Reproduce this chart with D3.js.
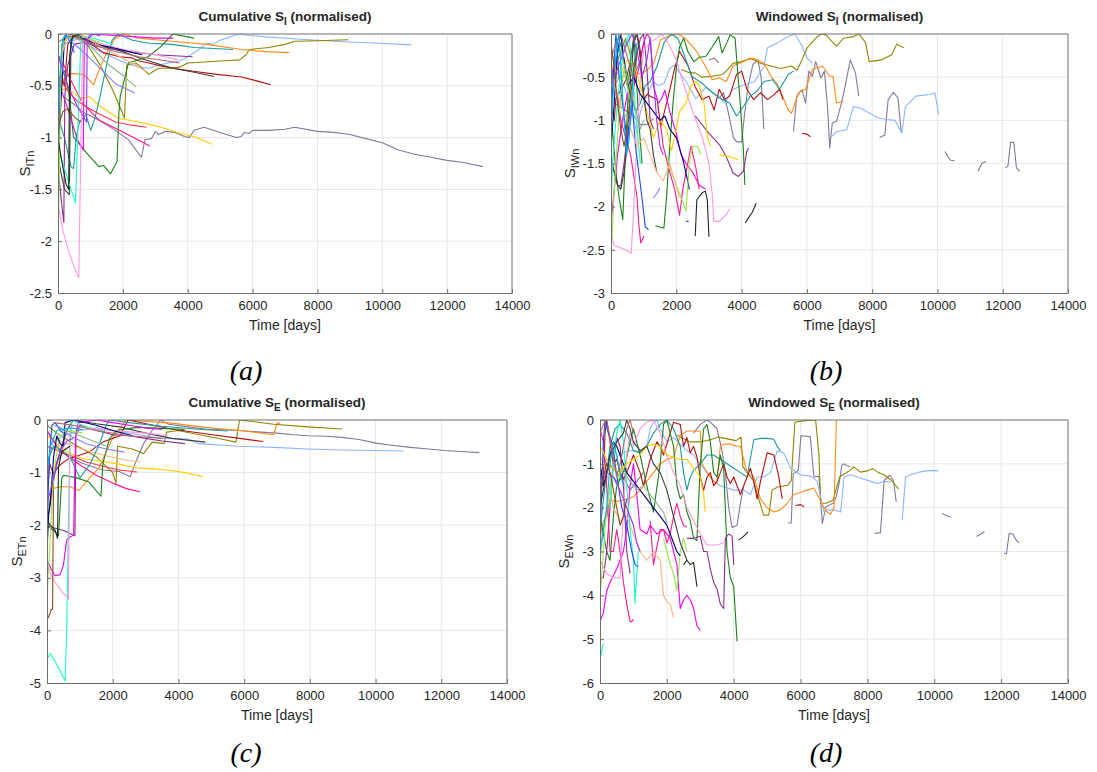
<!DOCTYPE html>
<html>
<head>
<meta charset="utf-8">
<script src="https://cdn.jsdelivr.net/npm/d3@7/dist/d3.min.js"></script>
<style>
  body { margin: 0; background: #fff; }
  svg { display: block; }
  text { font-family: "Liberation Sans", Arial, Helvetica, sans-serif; fill: #262626; }
  .caption { font-family: "Liberation Serif", "Times New Roman", serif; font-style: italic; fill: #000; }
</style>
</head>
<body>
<div id="chart"></div>
<script>
// one colour per well, same well keeps its colour in every panel
const wellColours = [
  '#85789a', '#8fb4ff', '#8c8700', '#ff8c1a', '#b31212', '#ffcc00', '#3d3d3d',
  '#1a801a', '#199999', '#f000f0', '#8c2e8c', '#ff1a8c', '#ff3355', '#ff99dd',
  '#1affc4', '#1a4dff', '#000080', '#99e64d', '#8fb38f', '#ffb380', '#8080ff',
  '#b36b6b', '#00b3d9', '#1a2b1a', '#9933ff', '#8a4a1f'
];

const xTicks = [0, 2000, 4000, 6000, 8000, 10000, 12000, 14000];

// cumulative S_I, normalised : [well, [[day, value], ...]]
const cumSI = [
  [0, [[150,-0.6],[500,-0.68],[800,-0.76],[1260,-0.83],[1770,-0.93],[2170,-1.02],[2570,-1.19],[2680,-1.02],[2880,-1.01],[3000,-0.94],[3100,-0.97],[3300,-0.94],[3600,-0.95],[3900,-0.99],[4050,-1.0],[4200,-0.93],[4500,-0.9],[5000,-0.95],[5500,-1.0],[5650,-0.99],[5750,-0.95],[5900,-0.96],[6000,-0.93],[6500,-0.93],[7000,-0.92],[7300,-0.9],[8000,-0.94],[8500,-0.95],[9000,-0.97],[9500,-1.01],[10000,-1.05],[10500,-1.12],[11000,-1.16],[11500,-1.19],[12000,-1.22],[12500,-1.24],[13100,-1.28]]],
  [1, [[100,-0.1],[600,-0.05],[1000,-0.12],[1500,-0.2],[2000,-0.27],[2500,-0.32],[2800,-0.33],[3100,-0.3],[3400,-0.28],[3750,-0.26],[4000,-0.22],[4300,-0.16],[4600,-0.09],[4800,-0.1],[5000,-0.06],[5300,-0.03],[5550,0],[5800,-0.01],[6500,-0.03],[7500,-0.05],[8500,-0.07],[9500,-0.085],[10900,-0.105]]],
  [2, [[0,-0.08],[300,-0.02],[600,-0.03],[900,-0.1],[1300,-0.3],[1700,-0.55],[2050,-0.81],[2120,-0.3],[2400,-0.28],[2600,-0.33],[2800,-0.39],[2950,-0.36],[3100,-0.33],[3400,-0.33],[3750,-0.32],[4000,-0.28],[4500,-0.27],[5000,-0.26],[5600,-0.25],[5800,-0.2],[5900,-0.15],[6500,-0.13],[7000,-0.1],[7300,-0.07],[8000,-0.065],[8950,-0.055]]],
  [3, [[0,-0.62],[150,-0.45],[360,-0.38],[785,-0.39],[950,-0.44],[1100,-0.49],[1200,-0.4],[1315,-0.31],[1550,-0.15],[1740,-0.05],[2000,0],[2480,-0.04],[3500,-0.07],[4600,-0.1],[5660,-0.15],[6400,-0.17],[7130,-0.18]]],
  [4, [[0,-0.55],[100,-0.4],[200,-0.5],[300,-0.1],[500,-0.01],[900,-0.07],[1400,-0.18],[1900,-0.22],[2270,-0.23],[2500,-0.26],[2800,-0.28],[3200,-0.31],[3550,-0.33],[4180,-0.36],[4900,-0.39],[5660,-0.415],[6100,-0.45],[6560,-0.49]]],
  [5, [[0,-0.55],[300,-0.52],[600,-0.6],[760,-0.62],[960,-0.605],[1260,-0.69],[1870,-0.815],[2170,-0.83],[2780,-0.87],[3280,-0.91],[3790,-0.96],[4190,-0.99],[4750,-1.065]]],
  [6, [[0,-1.2],[200,-1.5],[350,-1.55],[400,-0.05],[600,-0.01],[900,-0.05],[1400,-0.12],[2000,-0.17],[2500,-0.23],[3000,-0.28],[3540,-0.33],[4200,-0.37],[4810,-0.41]]],
  [7, [[200,-0.35],[350,-0.6],[475,-0.99],[860,-1.14],[1260,-1.28],[1410,-1.27],[1620,-1.35],[1820,-1.23],[1880,-0.75],[1920,-0.6],[2170,-0.28],[2780,-0.22],[3180,-0.12],[3540,0],[4190,-0.04]]],
  [8, [[0,-0.8],[200,-1.0],[400,-1.28],[480,-1.3],[560,-1.0],[660,-0.85],[860,-0.78],[1010,-0.93],[1150,-0.8],[1300,-0.6],[1510,-0.28],[1670,-0.06],[1850,0],[2300,-0.06],[2800,-0.09],[3500,-0.1],[4200,-0.13],[4800,-0.14],[5400,-0.15]]],
  [9, [[0,-0.45],[300,-0.72],[600,-1.02],[780,-1.12],[810,-0.1],[1000,0],[1500,-0.01],[2000,-0.02],[3000,-0.04],[3550,-0.04]]],
  [10, [[0,-1.3],[100,-1.6],[180,-1.82],[210,-0.6],[300,-0.3],[500,-0.1],[800,-0.08],[1200,-0.12],[2000,-0.16],[3000,-0.2],[4150,-0.22]]],
  [11, [[0,-0.2],[150,-0.28],[400,-0.45],[760,-0.67],[1260,-0.83],[1770,-0.91],[2270,-0.99],[2830,-1.08]]],
  [12, [[0,-0.4],[300,-0.55],[600,-0.65],[860,-0.7],[1260,-0.77],[1770,-0.85],[2270,-0.88],[2730,-0.9]]],
  [13, [[0,-1.64],[150,-1.9],[355,-2.12],[500,-2.25],[640,-2.35],[760,-0.02],[1200,-0.08],[2000,-0.15],[3000,-0.2],[3700,-0.25]]],
  [14, [[0,-1.1],[200,-1.3],[400,-1.5],[540,-1.63],[700,-0.1],[800,-0.02],[1200,-0.05],[1700,-0.1]]],
  [15, [[0,-1.3],[50,-0.7],[100,-0.3],[150,-0.05],[250,0],[400,-0.1],[500,-0.18]]],
  [16, [[0,-1.2],[100,-0.6],[200,-0.05],[400,0],[800,-0.05],[1200,-0.1],[1800,-0.14],[2300,-0.18],[2600,-0.2]]],
  [17, [[0,-2.35],[30,-1.5],[80,-0.5],[150,-0.1],[300,-0.02],[600,0],[1000,-0.05],[1300,-0.08]]],
  [18, [[300,-0.01],[600,-0.02],[1000,-0.12],[1500,-0.28],[2000,-0.4],[2400,-0.51]]],
  [19, [[0,-0.3],[300,-0.02],[700,0],[1200,-0.1],[1800,-0.2],[2400,-0.3],[2700,-0.36]]],
  [20, [[300,-0.05],[700,-0.15],[1200,-0.3],[1770,-0.48],[2370,-0.57]]],
  [21, [[300,-0.02],[800,-0.06],[1500,-0.15],[2500,-0.22],[3750,-0.28]]],
  [22, [[0,-0.9],[60,-0.4],[120,-0.1],[200,-0.02],[500,-0.05]]],
  [24, [[0,-0.2],[300,-0.5],[600,-0.7],[880,-0.85],[900,-0.05],[1100,0],[1300,-0.02]]],
  [25, [[0,-0.9],[150,-0.75],[300,-0.72],[500,-0.8],[700,-0.85]]],
  [23, [[0,-1.0],[100,-1.2],[250,-1.45],[330,-1.5],[360,-0.2],[450,-0.02],[700,0]]]
];

// windowed S_I, normalised (null = no window value)
const winSI = [
  [0, [[100,-0.8],[300,-0.85],[500,-0.9],[700,-0.95],[900,-1.05],[1100,-1.05],[1300,-0.98],null,[3000,-0.3],[3150,-0.28],[3300,-0.33],null,[3300,-0.75],[3450,-0.68],[3600,-0.92],[3750,-1.2],[3850,-1.25],[4000,-1.25],[4100,-0.9],[4200,-0.6],[4350,-0.35],[4500,-0.3],[4600,-0.5],[4680,-1.1],null,[5590,-1.13],[5690,-0.72],[5850,-0.645],[5960,-0.8],[6060,-0.43],[6170,-0.49],[6270,-0.32],[6430,-0.51],[6540,-0.43],[6640,-0.88],[6700,-1.32],[6780,-1.03],[6910,-1.01],[7060,-0.8],[7170,-0.61],[7330,-0.3],[7490,-0.45],[7590,-0.72],null,[8230,-1.2],[8390,-1.17],[8490,-0.76],[8650,-0.675],[8790,-0.74],[8890,-1.13],null,[10230,-1.36],[10390,-1.46],[10520,-1.47],null,[11240,-1.59],[11360,-1.5],[11500,-1.475],null,[12080,-1.55],[12160,-1.53],[12240,-1.255],[12340,-1.255],[12420,-1.55],[12520,-1.59]]],
  [1, [[0,-0.2],[200,-0.45],[400,-0.6],[600,-0.85],[800,-1.15],[900,-0.9],[1100,-0.7],[1300,-0.55],[1450,-0.6],[1630,-0.57],[1800,-0.4],[1940,-0.36],[2100,-0.45],[2300,-0.55],[2600,-0.75],[2900,-0.62],[3200,-0.7],[3500,-0.8],[3700,-0.65],[4000,-0.6],[4400,-0.55],[4690,-0.37],[4790,-0.16],[5110,-0.1],[5430,-0.03],[5640,0],[5850,-0.14],[6010,-0.28],[6170,-0.34],null,[6750,-1.19],[6910,-1.13],[7220,-1.11],[7430,-0.84],[7650,-0.86],[8170,-0.97],[8440,-0.99],[8700,-1.0],[8910,-1.15],[9020,-0.84],[9340,-0.72],[9760,-0.7],[9920,-0.68],[10040,-0.93]]],
  [2, [[0,-0.5],[150,-0.35],[300,-0.2],[450,-0.05],[600,-0.25],[750,-0.45],[900,-0.3],[1000,-0.1],null,[2150,-0.41],[2400,-0.45],[2580,-0.45],[2800,-0.5],[3100,-0.49],[3420,-0.47],[3600,-0.4],[3740,-0.34],[4000,-0.32],[4270,-0.28],[4580,-0.34],[4900,-0.37],[5200,-0.4],[5530,-0.37],[5700,-0.42],[5850,-0.3],[6010,-0.16],[6270,-0.05],[6430,0],[6590,-0.01],[6750,-0.08],[6910,-0.14],[7120,-0.05],[7430,-0.03],[7600,0],[7800,-0.1],[7910,-0.32],[8280,-0.3],[8600,-0.24],[8750,-0.12],[8970,-0.16]]],
  [3, [[0,-0.75],[100,-0.6],[250,-0.5],[412,-0.49],[700,-0.47],[993,-0.45],[1150,-0.4],[1310,-0.34],[1520,-0.066],[1730,-0.03],[2050,0],[2260,-0.046],[2580,-0.18],[2890,-0.37],[3100,-0.53],[3320,-0.51],[3530,-0.55],[3740,-0.37],[3950,-0.34],[4160,-0.3],[4370,-0.28],[4690,-0.34],[4900,-0.49],[5110,-0.59],[5430,-0.88],[5530,-0.92],[5745,-0.68],[5960,-0.64],[6170,-0.41],[6480,-0.37],[6700,-0.49],[6800,-0.49],[6910,-0.8],[7120,-0.78]]],
  [4, [[0,-0.84],[100,-1.0],[150,-0.75],[253,-0.68],[465,-0.53],[600,-0.3],[700,-0.05],[800,0],[900,-0.2],[993,-0.76],[1100,-0.7],[1204,-0.72],[1415,-0.76],[1521,-1.07],[1732,-0.76],[1943,-0.41],[2100,-0.2],[2365,-0.37],[2577,-0.61],[2788,-0.76],[2999,-0.72],[3158,-0.88],[3316,-0.64],[3474,-0.76],[3633,-0.72],[3844,-0.47],[4002,-0.43],[4161,-0.64],[4372,-0.76],[4583,-0.68],[4794,-0.76],[5005,-0.7],[5164,-0.64],[5270,-0.76],null,[5850,-1.15],[6000,-1.16],[6110,-1.19]]],
  [8, [[0,-0.6],[150,-0.3],[300,-0.1],[450,-0.4],[600,-0.7],[750,-0.9],[900,-0.8],[1050,-0.6],[1200,-0.55],[1415,-0.37],[1626,-0.1],[1838,0],[2049,-0.05],[2260,-0.26],[2471,-0.49],[2788,-0.57],[3105,-0.68],[3421,-0.76],[3633,-0.8],[3844,-0.95],[4055,-0.84],[4266,-0.72],[4477,-0.66],[4689,-0.55],[4953,-0.53],[5164,-0.64],[5428,-0.47],[5586,-0.43]]],
  [7, [[0,-0.9],[150,-1.6],[250,-1.9],[360,-2.15],[450,-1.3],[550,-0.5],[650,-0.2],[700,0],[760,-0.4],[850,-1.0],[950,-1.5],null,[1360,-2.22],[1620,-2.25],[1700,-1.9],[1800,-1.3],[1900,-0.8],[2000,-0.4],[2100,-0.15],[2230,-0.05],[2350,-0.2],[2540,-0.32],[2700,-0.27],[2900,-0.26],[3100,-0.15],[3300,-0.03],[3400,-0.22],[3550,-0.1],[3650,-0.01],[3800,-0.05],[3950,-0.76],[4050,-1.3],[4100,-1.75]]],
  [10, [[0,-1.4],[100,-1.6],[200,-1.75],[300,-1.76],[400,-1.5],[500,-1.2],[600,-1.0],[700,-0.6],[800,-0.2],[900,-0.05],[1000,0],[1100,-0.4],[1200,-1.0],[1300,-1.1],null,[2580,-0.95],[3000,-1.15],[3320,-1.28],[3530,-1.42],[3740,-1.61],[3900,-1.65],[4055,-1.59],[4160,-1.36],[4210,-1.32]]],
  [9, [[0,-2.2],[100,-1.8],[200,-1.4],[350,-1.0],[500,-0.7],[700,-0.6],[850,-0.4],[1000,-0.1],[1100,0],[1200,-0.05],[1300,-0.6],[1450,-0.8],[1550,-0.75],[1650,-0.65],[1800,-0.9],[2000,-1.15],[2150,-1.4],[2300,-1.5],[2500,-1.6],[2700,-1.75],[2900,-1.8]]],
  [11, [[0,-0.3],[100,-0.6],[200,-0.7],[300,-1.0],[450,-1.2],[600,-1.4],[700,-1.65],[800,-1.9],[850,-2.2],[912,-2.42],[1013,-2.34],null,[1500,-1.0],[1600,-1.3],[1800,-1.6],[1950,-1.8],[2100,-2.1],[2200,-1.8],[2350,-1.5],[2450,-1.3],[2600,-1.55],[2700,-1.8]]],
  [13, [[0,-2.3],[100,-2.45],[250,-2.47],[450,-2.5],[620,-2.54],[700,-2.0],[800,-1.2],[900,-0.5],[1000,-0.2],[1200,-0.1],[1400,-0.05],[1550,0],[1750,-0.1],[2000,-0.3],[2200,-0.55],[2500,-0.9],[2800,-1.2],[3000,-1.5],[3100,-1.85],[3150,-2.17],[3320,-2.17],[3530,-2.09],[3630,-2.03]]],
  [5, [[0,-0.2],[150,-0.4],[300,-0.45],[500,-0.3],[700,-0.35],[900,-0.6],[1100,-0.9],[1300,-1.2],[1500,-1.0],[1700,-1.1],[1850,-1.35],[2000,-1.1],[2100,-0.9],[2300,-0.8],[2450,-0.6],[2600,-0.55],[2700,-0.6],[2850,-0.8],[2950,-1.2],[3050,-1.3],null,[3320,-1.4],[3630,-1.42],[3900,-1.46]]],
  [23, [[2580,-2.34],[2630,-1.92],[2790,-1.84],[2890,-1.82],[2950,-1.92],[3000,-2.35],null,[4110,-2.19],[4210,-2.13],[4320,-2.07],[4450,-1.96]]],
  [6, [[0,-1.5],[100,-1.6],[200,-1.75],[300,-1.8],[400,-1.6],[500,-1.3],[600,-0.5],[700,-0.1],[800,0],[900,-0.3],[1000,-0.7],[1100,-1.0],[1200,-1.1],[1300,-1.4],[1400,-1.6]]],
  [16, [[0,-1.3],[100,-0.8],[200,-0.2],[300,0],[400,-0.3],[500,-0.6],[700,-0.5],[900,-0.7],[1100,-0.8],[1300,-0.9],[1500,-1.0],[1650,-0.95],[1800,-1.1],[2000,-1.2],[2200,-1.45],[2350,-1.7],[2400,-1.8]]],
  [15, [[0,-1.0],[100,-0.3],[150,0],[250,-0.5],[350,-0.8],[450,-1.1],[500,-1.3],[550,-1.0],[650,-0.8],[750,-1.3],[850,-1.6],[950,-1.9],[1050,-2.23],[1150,-2.27],null,[2300,-2.17],[2380,-2.17]]],
  [20, [[1300,-1.9],[1400,-1.85],[1500,-1.78]]],
  [17, [[0,-2.6],[100,-1.8],[200,-1.2],[300,-0.7],[400,-0.4],[500,-0.6],[600,-0.8],null,[1700,-1.4],[1850,-1.6],[2000,-1.75],[2150,-1.9],[2300,-2.05],[2400,-1.5],[2500,-1.3],[2650,-1.3],[2750,-1.4]]],
  [14, [[0,-2.0],[50,-1.5],[150,-1.0],[250,-0.6],[350,-0.3],[450,-0.1],[550,0],[650,-0.4],[750,-0.9],[850,-1.3],[900,-1.5]]],
  [18, [[300,-0.2],[500,-0.5],[700,-0.8],[900,-1.1],[1000,-1.0]]],
  [19, [[0,-0.5],[200,-0.7],[400,-0.9],[600,-1.1],[800,-1.3],[1000,-1.2],[1200,-1.4],[1400,-1.6],[1600,-1.7],[1800,-1.5],[1950,-1.7],[2100,-1.9]]],
  [24, [[0,-0.6],[300,-0.3],[500,-0.1],[650,0],[800,-0.2],[950,-0.5],[1100,-0.3],[1200,-0.05],[1300,-0.5],[1400,-1.0],[1500,-1.3],[1600,-1.4]]],
  [21, [[0,-0.3],[150,-0.1],[300,0],[450,-0.2],[600,-0.4],[750,-0.3]]],
  [22, [[0,-1.2],[80,-0.6],[160,-0.2],[240,0],[320,-0.5],[400,-1.0],[480,-1.4],[560,-1.2],[640,-0.7],[720,-0.3],[800,-0.1]]],
  [25, [[0,-0.1],[100,-0.4],[200,-0.8],[300,-1.1],[400,-1.3],[500,-1.1],[600,-0.7],[700,-0.4],[800,-0.2]]]
];

// cumulative S_E, normalised
const cumSE = [
  [0, [[0,-0.2],[100,-0.3],[400,-0.6],[800,-0.75],[1200,-0.85],[1700,-0.95],[2200,-0.98],[2530,-1.08],[2700,-0.8],[2940,-0.45],[3200,-0.2],[3460,0],[3700,-0.08],[4300,-0.13],[4800,-0.17],[5850,-0.2],[6500,-0.23],[7000,-0.25],[7500,-0.28],[7940,-0.3],[8500,-0.31],[8980,-0.33],[9500,-0.37],[10020,-0.44],[10500,-0.48],[11060,-0.52],[11600,-0.55],[12100,-0.58],[12600,-0.6],[13160,-0.62]]],
  [2, [[0,-0.1],[300,-0.25],[800,-0.45],[1500,-0.7],[2000,-1.0],[2100,-1.2],[2150,-0.5],[2600,-0.55],[2940,-0.64],[3200,-0.42],[3560,-0.45],[3640,-0.23],[3980,-0.2],[4800,-0.3],[5300,-0.36],[5750,-0.42],[5860,0],[6900,-0.08],[7940,-0.13],[8980,-0.17]]],
  [1, [[0,-1.2],[100,-0.6],[200,-0.4],[500,-0.3],[1000,-0.2],[1500,-0.15],[2000,-0.2],[2500,-0.25],[3000,-0.3],[3500,-0.35],[4300,-0.36],[4600,-0.45],[5850,-0.5],[6900,-0.52],[7940,-0.55],[8980,-0.57],[10850,-0.59]]],
  [3, [[0,-1.6],[100,-1.6],[200,-1.3],[400,-1.27],[700,-1.27],[970,-1.34],[1300,-1.1],[1590,-0.9],[2010,-0.33],[2420,0],[3780,-0.06],[4820,-0.14],[5860,-0.2],[6900,-0.28],[7000,-0.06],[7100,-0.06]]],
  [4, [[0,-1.5],[80,-0.83],[190,-1.02],[400,-0.85],[650,-0.74],[1280,-0.61],[1700,-0.42],[2220,-0.3],[2470,0],[3780,-0.17],[4820,-0.26],[5860,-0.35],[6580,-0.41]]],
  [5, [[0,-0.3],[300,-0.45],[600,-0.6],[900,-0.7],[1180,-0.74],[1600,-0.78],[2110,-0.83],[2740,-0.91],[3260,-0.93],[3780,-0.96],[4200,-1.0],[4760,-1.08]]],
  [11, [[0,-0.2],[300,-0.5],[650,-0.7],[1000,-0.85],[1500,-1.05],[2000,-1.2],[2400,-1.3],[2840,-1.37]]],
  [12, [[0,-0.5],[400,-0.6],[800,-0.7],[1200,-0.8],[1700,-0.88],[2200,-0.95],[2740,-0.99]]],
  [19, [[0,-0.3],[400,-0.4],[800,-0.5],[1300,-0.6],[1800,-0.68],[2300,-0.75],[2840,-0.8]]],
  [6, [[0,-2.0],[100,-1.5],[300,-0.8],[600,-0.2],[800,0],[1500,-0.07],[2200,-0.13],[3000,-0.25],[3800,-0.35],[4820,-0.42]]],
  [10, [[0,-2.0],[200,-2.05],[500,-2.1],[850,-2.2],[880,-0.3],[1000,-0.1],[1500,-0.2],[2000,-0.28],[2500,-0.3],[3000,-0.35],[3500,-0.4],[4200,-0.45]]],
  [7, [[0,-2.0],[200,-2.1],[350,-2.2],[450,-1.1],[500,-1.05],[900,-1.1],[1280,-1.18],[1640,-1.45],[1700,-0.83],[1900,-0.36],[2110,-0.2],[2740,-0.14],[3500,-0.16],[4190,-0.18]]],
  [8, [[0,-0.8],[200,-0.5],[500,-0.6],[700,-0.7],[1000,-1.1],[1300,-0.85],[1600,-0.45],[1800,-0.1],[1900,0],[2500,-0.05],[3500,-0.12],[4500,-0.17],[5500,-0.21]]],
  [9, [[0,-2.66],[100,-2.8],[240,-2.96],[400,-2.94],[500,-2.76],[600,-2.28],[710,-2.22],[810,-2.19],[840,-1.15],[870,-0.3],[950,-0.05],[1500,0],[2000,-0.05],[2500,-0.1],[3000,-0.15],[3500,-0.18]]],
  [14, [[0,-4.55],[100,-4.44],[240,-4.58],[400,-4.77],[550,-4.96],[600,-4.0],[650,-2.0],[700,-0.5],[760,0],[1000,-0.08],[1300,-0.15],[1700,-0.2]]],
  [13, [[0,-2.7],[135,-2.98],[343,-3.17],[500,-3.3],[603,-3.35],[650,-3.42],[680,-1.5],[700,-0.2],[800,-0.1],[1200,-0.15],[2000,-0.2],[3000,-0.25],[3700,-0.3]]],
  [25, [[0,-3.8],[80,-3.7],[130,-3.6],[170,-3.6],[200,-1.0],[300,-0.8],[500,-0.6]]],
  [17, [[0,-3.7],[30,-3.0],[80,-2.5],[150,-1.5],[250,-0.8],[400,-0.3],[700,-0.2],[1100,-0.25]]],
  [15, [[0,-2.3],[30,-1.5],[80,-0.6],[150,-0.1],[250,-0.05],[400,-0.2],[500,-0.25]]],
  [16, [[0,-2.5],[50,-1.8],[100,-1.6],[200,-0.7],[300,-0.3],[400,-0.45],[500,-0.5],[550,-0.05],[800,0],[1500,-0.1],[2000,-0.2],[2600,-0.3]]],
  [18, [[200,-0.1],[600,-0.2],[1000,-0.3],[1400,-0.4],[1800,-0.5]]],
  [20, [[300,-0.1],[700,-0.3],[1200,-0.45],[1800,-0.55],[2350,-0.61]]],
  [22, [[0,-1.0],[100,-0.5],[300,-0.2],[700,-0.15],[1100,-0.18]]],
  [21, [[200,-0.05],[800,-0.1],[1500,-0.2],[2500,-0.3],[3500,-0.35]]],
  [24, [[0,-1.6],[200,-1.1],[400,-0.6],[600,-0.4],[800,-0.35]]],
  [23, [[0,-1.9],[100,-2.0],[250,-2.1],[320,-2.25],[350,-0.9],[450,-0.6],[700,-0.5]]]
];

// windowed S_E, normalised (null = no window value)
const winSE = [
  [0, [[100,-0.8],[300,-1.2],[500,-1.4],[700,-1.3],[900,-1.6],[1100,-1.4],[1300,-1.2],null,[2800,-0.3],[3000,-0.1],[3200,0],[3300,-0.05],[3500,-0.2],[3650,-0.7],[3750,-1.2],[3850,-2.0],[3950,-2.45],[4100,-2.4],[4200,-1.9],[4300,-1.5],null,[5620,-2.35],[5720,-2.35],[5780,-1.23],[5930,-1.15],[6010,-0.36],[6290,-0.38],[6400,-1.3],[6550,-1.28],[6650,-2.36],[6760,-1.98],[6970,-1.9],[7070,-1.75],[7170,-1.38],[7230,-1.04],[7280,-1.0],[7380,-1.04],[7480,-1.06],null,[8210,-2.59],[8390,-2.57],[8500,-1.38],[8670,-1.26],[8780,-1.38],[8860,-1.87],null,[10230,-2.13],[10380,-2.19],[10480,-2.21],null,[11260,-2.66],[11420,-2.59],[11500,-2.55],null,[12090,-3.04],[12160,-3.05],[12240,-2.59],[12350,-2.6],[12450,-2.74],[12530,-2.8]]],
  [2, [[0,-1.2],[200,-1.0],[400,-1.1],[600,-1.3],[800,-1.1],null,[2300,-0.35],[2700,-0.5],[3000,-0.5],[3300,-0.45],[3550,-0.39],[4070,-0.47],[4220,-0.39],[4275,-1.07],[4585,-1.38],[4895,-2.17],[5050,-2.17],[5150,-1.6],[5310,-1.53],[5620,-1.49],[5720,-1.38],[5830,-0.05],[6140,-0.015],[6450,0],[6550,-0.8],[6600,-1.9],[6760,-1.9],[6970,-1.83],[7170,-1.3],[7480,-1.15],[7590,-1.07],[7790,-1.19],[8000,-1.16],[8160,-1.11],[8310,-1.19],[8520,-1.26],[8720,-1.38],[8930,-1.57]]],
  [1, [[0,-3.2],[100,-2.5],[250,-1.8],[400,-1.0],[550,-0.8],[700,-0.75],[850,-0.7],[1000,-0.7],[1200,-0.72],[1400,-0.6],[1500,-0.2],[1600,-0.05],[1700,0],[1800,-0.2],[2000,-0.5],[2200,-0.4],[2400,-0.55],[2600,-0.7],[2800,-0.8],[3000,-1.0],[3200,-1.2],[3400,-1.4],[3600,-1.5],[3800,-1.55],[4000,-1.6],[4300,-1.6],[4500,-1.7],[4700,-1.3],[4900,-1.3],[5100,-1.2],[5300,-0.7],[5500,-0.75],[5700,-1.1],[6000,-1.25],[6300,-1.28],[6500,-1.4],[6700,-2.1],[6800,-2.05],[7000,-2.05],[7200,-2.1],[7300,-1.3],[7500,-1.25],[7700,-1.3],[7900,-1.35],[8100,-1.4],[8300,-1.45],[8500,-1.4],[8700,-1.42],null,[9040,-2.28],[9140,-1.3],[9350,-1.23],[9550,-1.19],[9760,-1.16],[9970,-1.15],[10120,-1.16]]],
  [3, [[0,-2.7],[100,-2.3],[200,-2.2],[300,-1.8],[400,-1.85],[600,-1.85],[800,-1.8],[1000,-1.75],[1200,-1.6],[1400,-1.4],[1600,-1.2],[1800,-1.0],[2000,-0.9],[2200,-0.85],[2400,-0.35],[2600,-0.25],[2800,-0.25],[3000,-0.25],[3050,-1.0],[3200,-1.2],[3400,-1.4],[3500,-1.45],[3600,-0.6],[3700,-0.55],[3900,-0.55],[4100,-0.6],[4200,-0.6],[4400,-1.2],[4600,-1.3],[4800,-1.8],[5000,-2.0],[5200,-2.1],[5400,-2.05],[5600,-1.9],[5800,-1.7],[6000,-1.65],[6200,-1.6],[6400,-1.55],[6500,-1.7],[6700,-2.0],[6800,-2.1],[6900,-2.15],[7000,-2.0],[7030,-1.2],[7070,0],[7100,0]]],
  [8, [[0,-2.5],[150,-1.5],[300,-0.6],[450,-0.2],[600,-0.1],[800,-0.3],[1000,-0.7],[1200,-0.75],[1400,-0.6],[1600,-0.3],[1800,-0.1],[2000,0],[2200,-0.2],[2400,-0.6],[2500,-1.2],[2600,-1.6],[2700,-1.3],[2800,-1.15],[3000,-1.0],[3200,-0.8],[3400,-0.8],[3600,-0.9],[3800,-1.0],[4000,-1.1],[4200,-1.2],[4400,-1.3],[4600,-0.45],[4800,-0.42],[5000,-0.42],[5200,-0.44],[5300,-0.6],[5400,-0.7]]],
  [4, [[0,-1.6],[100,-1.4],[150,-0.3],[200,0],[300,-0.5],[400,-1.0],[500,-0.9],[600,-1.2],[700,-1.35],[800,-1.2],[900,-1.0],[1000,-0.8],[1100,-1.0],[1200,-1.2],[1300,-1.5],[1400,-1.2],[1500,-0.9],[1600,-0.7],[1700,-0.5],[1800,-0.6],[1900,-0.8],[2000,-0.55],[2100,-0.3],[2200,-0.05],[2300,-0.08],[2400,-0.1],[2500,-0.6],[2600,-0.4],[2700,-0.75],[2800,-0.6],[2900,-0.85],[3000,-1.3],[3100,-1.6],[3200,-1.3],[3300,-1.2],[3400,-1.5],[3500,-1.4],[3600,-1.2],[3700,-1.0],[3800,-1.3],[3900,-1.45],[4000,-1.3],[4100,-1.5],[4200,-1.7],[4300,-1.5],[4400,-1.3],[4500,-1.1],[4600,-1.4],[4700,-1.8],[4800,-1.4],[5000,-0.75],[5200,-0.8],[5350,-1.3],[5450,-1.8],null,[5850,-1.95],[6000,-1.93],[6100,-1.98]]],
  [7, [[0,-2.2],[100,-2.6],[200,-3.0],[300,-3.2],[400,-2.2],[500,-1.5],[700,-1.2],[900,-0.5],[1000,-0.2],[1200,-0.8],[1400,-1.5],[1600,-2.1],[1800,-1.0],[1900,-0.1],[2000,0],[2200,-0.6],[2300,-1.5],[2400,-1.8],[2500,-1.7],[2600,-2.1],[2700,-2.3],[2800,-2.7],[2900,-2.75],[3000,-1.0],[3100,-0.2],[3200,-0.1],[3300,-0.5],[3400,-1.2],[3500,-1.3],[3600,-0.8],[3700,-1.1],[3800,-3.0],[3900,-3.6],[4000,-3.8],[4100,-5.05]]],
  [10, [[0,-3.6],[100,-3.6],[200,-3.0],[300,-2.0],[400,-1.0],[500,-0.4],[600,-0.6],[700,-1.5],[800,-3.0],[900,-3.5],null,[2600,-2.7],[2800,-2.7],[3000,-2.65],[3100,-3.0],[3200,-3.0],[3300,-3.4],[3400,-3.7],[3500,-3.85],[3600,-4.2],[3700,-4.3],[3750,-2.7],[3850,-2.6],[3950,-2.65],[4000,-3.3]]],
  [9, [[0,-4.6],[100,-4.4],[200,-3.9],[300,-3.7],[500,-3.4],[700,-3.0],[800,-2.5],[900,-1.5],[1000,-1.0],[1100,-1.7],[1200,-2.5],[1400,-2.6],[1500,-2.4],[1700,-2.6],[1900,-2.5],[2100,-2.7],[2300,-3.3],[2400,-4.3],[2500,-4.1],[2600,-4.0],[2700,-4.1],[2800,-4.3],[2900,-4.7],[3000,-4.8]]],
  [11, [[0,-0.2],[100,-0.5],[200,-1.5],[300,-3.0],[400,-3.0],[500,-2.5],[600,-3.0],[700,-3.7],[800,-4.2],[900,-4.6],[950,-4.6],[1000,-4.55],null,[1500,-2.3],[1600,-3.3],[1700,-2.9],[1800,-2.5],[1900,-2.5],[2000,-2.8],[2100,-2.6],[2200,-2.2],[2300,-1.9],[2400,-2.2],[2500,-2.4],[2600,-2.45]]],
  [23, [[2500,-3.3],[2600,-3.2],[2700,-3.3],[2800,-3.25],[2900,-3.8],null,[4150,-2.74],[4300,-2.65],[4430,-2.55]]],
  [13, [[0,-3.2],[200,-3.5],[400,-3.6],[600,-3.6],[700,-2.0],[800,-0.8],[900,-0.3],[1000,-0.6],[1200,-0.2],[1400,-0.05],[1600,0],[1800,-0.3],[2000,-0.8],[2200,-1.2],[2400,-1.5],[2600,-2.0],[2800,-2.3],[3000,-2.6],[3200,-2.85],[3500,-2.85],[3700,-2.8]]],
  [19, [[0,-0.8],[200,-1.2],[400,-2.0],[600,-2.3],[800,-2.2],[1000,-2.6],[1200,-3.0],[1400,-3.2],[1600,-3.0],[1800,-3.2],[1900,-4.0],[2000,-4.15],[2100,-4.2],[2200,-4.5]]],
  [17, [[0,-4.1],[100,-3.0],[200,-2.0],[300,-1.5],[400,-1.3],[500,-1.5],[600,-1.2],[700,-1.0],null,[1900,-2.7],[2000,-3.0],[2100,-3.3],[2200,-3.5],[2300,-3.9],[2400,-3.0],[2500,-2.7],[2600,-3.0]]],
  [14, [[0,-5.46],[100,-5.1],null,[300,-2.0],[400,-1.0],[500,-0.3],[600,0],[700,-0.5],[800,-1.5],[900,-2.5],[1000,-3.2],[1050,-4.18],[1100,-3.5],[1150,-3.0]]],
  [15, [[0,-3.0],[50,-1.5],[100,-0.5],[150,0],[250,-0.3],[350,-0.5],[450,-1.0],[550,-1.5],[650,-2.0],[750,-2.2],[850,-2.6],[950,-3.0],[1050,-3.3],[1150,-3.35]]],
  [16, [[0,-1.0],[100,-1.5],[200,-1.2],[300,-0.8],[400,-0.5],[500,-0.6],[600,-0.8],[700,-1.0],[800,-1.2],[1000,-1.4],[1200,-1.6],[1400,-1.8],[1600,-2.0],[1800,-2.2],[2000,-2.4],[2200,-2.8],[2300,-3.0],[2400,-3.1]]],
  [18, [[500,-1.0],[700,-1.2],[900,-1.4],[1100,-1.6],[1300,-1.5],[1500,-1.7],[1700,-1.9],[1800,-2.0],[1900,-2.1],[2000,-2.35]]],
  [5, [[0,-0.6],[200,-0.9],[400,-1.1],[600,-1.2],[800,-1.0],[1000,-0.9],[1200,-0.8],[1400,-0.6],[1600,-0.55],[1800,-0.6],[2000,-0.8],[2200,-0.85],[2400,-0.9],[2600,-0.9],[2800,-1.1],[3000,-1.3],[3100,-1.7],[3150,-2.1]]],
  [22, [[0,-3.0],[100,-2.5],[200,-2.0],[300,-1.0],[400,-0.5],[500,-0.8],[600,-1.2],[700,-1.5]]],
  [24, [[0,-1.5],[200,-1.2],[400,-1.3],[600,-1.6],[800,-2.0],[1000,-2.4],[1100,-2.8],[1200,-3.0]]],
  [6, [[0,-2.0],[100,-1.6],[300,-0.8],[500,-0.5],[700,-0.3],[800,0],[900,-0.2],[1000,-0.5],[1200,-0.7],[1400,-0.6],[1600,-1.0],[1800,-1.2],[2000,-1.6],[2200,-2.2],[2300,-2.5],[2400,-2.8],[2500,-3.0],[2600,-3.2]]],
  [21, [[0,-0.3],[100,-0.1],[200,0],[300,-0.4],[400,-0.9],[500,-1.3],[600,-1.0],[700,-0.6],[800,-0.2],[900,0],[1000,-0.3]]],
  [25, [[0,-1.8],[100,-1.3],[200,-1.0],[300,-1.2],[400,-1.6],[500,-2.0],[600,-2.4],[700,-2.2],[800,-1.8]]]
];

const yTicksSI = [0, -0.5, -1, -1.5, -2, -2.5];
const yTicksWI = [0, -0.5, -1, -1.5, -2, -2.5, -3];
const yTicksSE = [0, -1, -2, -3, -4, -5];
const yTicksWE = [0, -1, -2, -3, -4, -5, -6];

// panel layout
const panels = [
  {data: cumSI, yTicks: yTicksSI, left: 58, right: 512, top: 34, bottom: 293,
   title: ['Cumulative S', 'I', ' (normalised)'], ylab: ['S', 'ITn'], ylabX: 30, caption: '(a)', capX: 246, capY: 380},
  {data: winSI, yTicks: yTicksWI, left: 611, right: 1068, top: 34, bottom: 293,
   title: ['Windowed S', 'I', ' (normalised)'], ylab: ['S', 'IWn'], ylabX: 575, caption: '(b)', capX: 826, capY: 380},
  {data: cumSE, yTicks: yTicksSE, left: 47, right: 507, top: 420, bottom: 683,
   title: ['Cumulative S', 'E', ' (normalised)'], ylab: ['S', 'ETn'], ylabX: 22, caption: '(c)', capX: 246, capY: 762},
  {data: winSE, yTicks: yTicksWE, left: 600, right: 1068, top: 420, bottom: 683,
   title: ['Windowed S', 'E', ' (normalised)'], ylab: ['S', 'EWn'], ylabX: 569, caption: '(d)', capX: 826, capY: 762}
];

const width = 1097, height = 772;
const svg = d3.select('#chart').append('svg')
  .attr('width', width)
  .attr('height', height);

panels.forEach((p, i) => {
  const w = p.right - p.left;
  const h = p.bottom - p.top;
  const yMin = d3.min(p.yTicks);

  const x = d3.scaleLinear().domain([0, 14000]).range([0, w]);
  const y = d3.scaleLinear().domain([yMin, 0]).range([h, 0]);

  const g = svg.append('g')
    .attr('transform', `translate(${p.left},${p.top})`);

  // grid
  g.append('g').selectAll('line')
    .data(xTicks.slice(1, -1))
    .enter().append('line')
      .attr('x1', d => x(d)).attr('x2', d => x(d))
      .attr('y1', 0).attr('y2', h)
      .attr('stroke', '#e8e8e8');
  g.append('g').selectAll('line')
    .data(p.yTicks.filter(d => d !== 0 && d !== yMin))
    .enter().append('line')
      .attr('y1', d => y(d)).attr('y2', d => y(d))
      .attr('x1', 0).attr('x2', w)
      .attr('stroke', '#e8e8e8');

  // lines
  g.append('clipPath').attr('id', 'clip' + i)
    .append('rect').attr('width', w).attr('height', h);

  const line = d3.line()
    .defined(d => d !== null)
    .x(d => x(d[0]))
    .y(d => y(d[1]));

  g.append('g')
    .attr('clip-path', `url(#clip${i})`)
    .selectAll('path')
    .data(p.data)
    .enter().append('path')
      .attr('fill', 'none')
      .attr('stroke', d => wellColours[d[0]])
      .attr('stroke-width', 1.1)
      .attr('stroke-linejoin', 'round')
      .attr('d', d => line(d[1]));

  // axes, ticks pointing inwards
  const xAxis = d3.axisBottom(x)
    .tickValues(xTicks)
    .tickFormat(d3.format('d'))
    .tickSizeInner(-4).tickSizeOuter(0).tickPadding(8);
  const yAxis = d3.axisLeft(y)
    .tickValues(p.yTicks)
    .tickFormat(d => String(d))
    .tickSizeInner(-4).tickSizeOuter(0).tickPadding(6);

  g.append('g').attr('class', 'x axis')
    .attr('transform', `translate(0,${h})`)
    .call(xAxis);
  g.append('g').attr('class', 'y axis')
    .call(yAxis);

  g.selectAll('.axis text')
    .attr('font-size', 13)
    .attr('fill', '#262626')
    .attr('font-family', '"Liberation Sans", Arial, sans-serif');
  g.selectAll('.axis line, .axis path').attr('stroke', '#6e6e6e');

  // box top and right
  g.append('path')
    .attr('d', `M0,0H${w}V${h}`)
    .attr('fill', 'none')
    .attr('stroke', '#6e6e6e');

  // title with subscript
  const t = g.append('text')
    .attr('x', w / 2).attr('y', -13)
    .attr('text-anchor', 'middle')
    .attr('font-weight', 'bold')
    .attr('font-size', 13.5)
    .attr('fill', '#000');
  t.append('tspan').text(p.title[0]);
  t.append('tspan').attr('dy', 4).attr('font-size', 10).text(p.title[1]);
  t.append('tspan').attr('dy', -4).text(p.title[2]);

  // x label
  g.append('text')
    .attr('x', w / 2).attr('y', h + 37)
    .attr('text-anchor', 'middle')
    .attr('font-size', 14)
    .text('Time [days]');

  // y label
  const yl = svg.append('text')
    .attr('transform', `translate(${p.ylabX},${p.top + h / 2}) rotate(-90)`)
    .attr('text-anchor', 'middle')
    .attr('font-size', 15);
  yl.append('tspan').text(p.ylab[0]);
  yl.append('tspan').attr('dy', 4).attr('font-size', 11).text(p.ylab[1]);

  // panel letter
  svg.append('text')
    .attr('class', 'caption')
    .attr('x', p.capX).attr('y', p.capY)
    .attr('text-anchor', 'middle')
    .attr('font-size', 28)
    .text(p.caption);
});
</script>
</body>
</html>
